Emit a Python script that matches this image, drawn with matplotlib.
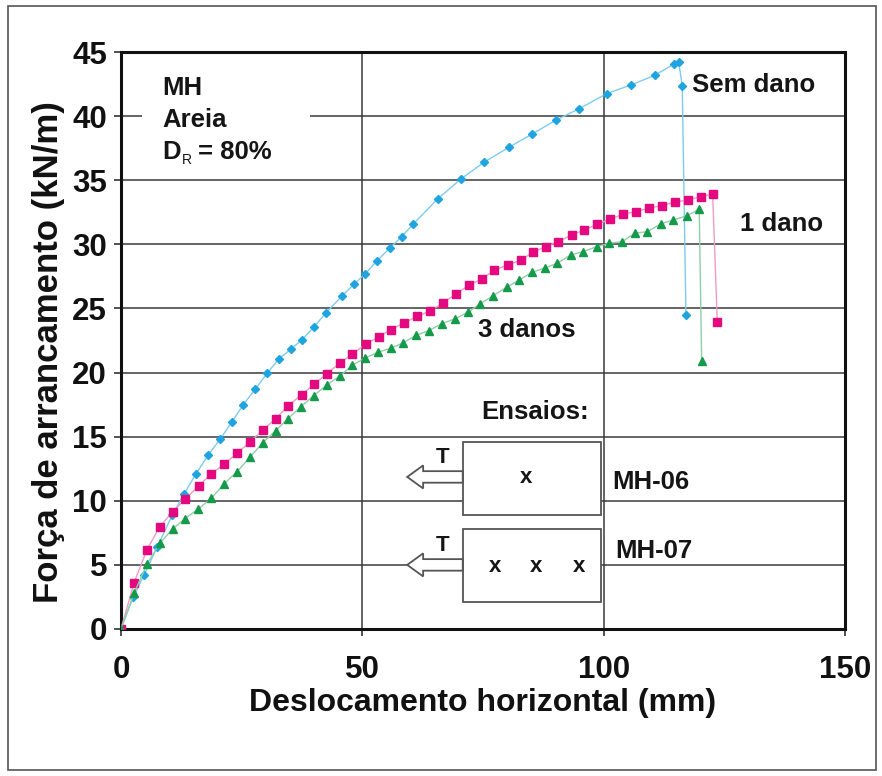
import matplotlib
matplotlib.use("Agg")
import matplotlib.pyplot as plt
from matplotlib import font_manager
from matplotlib.patches import Rectangle, Polygon

# ---------------- data ----------------
sem_dano_x = [0, 2.55, 4.76, 7.52, 10.63, 13.05, 15.48, 18.08, 20.57, 22.93, 25.34, 27.82,
              30.31, 32.73, 35.16, 37.56, 39.98, 42.41, 45.85, 48.27, 50.61, 53.10, 55.73,
              58.15, 60.56, 65.61, 70.44, 75.20, 80.38, 85.21, 90.18, 94.95, 100.68,
              105.66, 110.63, 114.63, 115.54, 116.28, 117.05]
sem_dano_y = [0, 2.52, 4.19, 6.42, 8.89, 10.53, 12.07, 13.57, 14.82, 16.12, 17.50, 18.70,
              19.97, 21.06, 21.82, 22.57, 23.56, 24.63, 26.00, 26.89, 27.71, 28.73, 29.72,
              30.60, 31.59, 33.54, 35.10, 36.40, 37.57, 38.61, 39.70, 40.58, 41.76,
              42.43, 43.19, 44.07, 44.23, 42.36, 24.49]

um_dano_x = [0, 2.69, 5.39, 8.02, 10.71, 13.32, 16.10, 18.71, 21.34, 24.03, 26.72, 29.36,
             32.05, 34.66, 37.44, 40.05, 42.61, 45.37, 47.92, 50.76, 53.39, 55.94, 58.63,
             61.38, 64.02, 66.71, 69.34, 72.09, 74.79, 77.34, 80.11, 82.81, 85.42, 87.98,
             90.60, 93.37, 95.98, 98.68, 101.31, 104.06, 106.69, 109.38, 112.02, 114.71,
             117.40, 120.10, 122.58, 123.54]
um_dano_y = [0, 3.59, 6.19, 7.98, 9.15, 10.12, 11.18, 12.09, 12.85, 13.70, 14.59, 15.50,
             16.40, 17.42, 18.28, 19.09, 19.91, 20.73, 21.45, 22.23, 22.78, 23.35, 23.87,
             24.39, 24.80, 25.43, 26.11, 26.81, 27.32, 27.98, 28.39, 28.76, 29.41, 29.82,
             30.21, 30.73, 31.12, 31.57, 31.96, 32.35, 32.55, 32.82, 33.02, 33.28,
             33.46, 33.70, 33.93, 23.97]

tres_danos_x = [0, 2.69, 5.39, 8.02, 10.71, 13.20, 16.02, 18.71, 21.34, 24.03, 26.72, 29.36,
                32.05, 34.53, 37.23, 39.92, 42.61, 45.37, 47.92, 50.49, 53.18, 55.94, 58.48,
                61.18, 63.75, 66.44, 69.13, 71.83, 74.37, 77.13, 79.90, 82.52, 85.15, 87.78,
                90.39, 93.16, 95.77, 98.55, 101.16, 103.85, 106.48, 109.03, 111.81, 114.42,
                117.19, 119.80, 120.30]
tres_danos_y = [0, 2.78, 5.07, 6.68, 7.80, 8.60, 9.36, 10.19, 11.31, 12.27, 13.39, 14.53,
                15.47, 16.38, 17.32, 18.20, 19.03, 19.73, 20.57, 21.12, 21.58, 21.90, 22.33,
                22.91, 23.27, 23.81, 24.18, 24.70, 25.35, 26.00, 26.65, 27.22, 27.82, 28.14,
                28.53, 29.17, 29.43, 29.82, 30.08, 30.21, 30.87, 30.99, 31.59, 31.90,
                32.22, 32.74, 20.90]

x_ticks = [0, 50, 100, 150]
y_ticks = [0, 5, 10, 15, 20, 25, 30, 35, 40, 45]

# ---------------- fonts ----------------
avail = {f.name for f in font_manager.fontManager.ttflist}
narrow = "Liberation Sans Narrow" if "Liberation Sans Narrow" in avail else "Liberation Sans"
plt.rcParams['font.family'] = ['Liberation Sans', 'DejaVu Sans']

fig = plt.figure(figsize=(8.82, 7.76), dpi=100)
ax = fig.add_axes([121/882, 1-629/776, (845-121)/882, (629-52)/776])

# figure frame
fig.patches.append(Rectangle((8/882, 6/776), (876-8)/882, (770-6)/776, transform=fig.transFigure,
                             fill=False, edgecolor='#555555', linewidth=1.2))

GRID = '#3a3a3a'
for yv in y_ticks[1:-1]:
    ax.axhline(yv, color=GRID, lw=1.1, zorder=0.5)
for xv in x_ticks[1:-1]:
    ax.axvline(xv, color=GRID, lw=1.1, zorder=0.5)

ax.plot(sem_dano_x, sem_dano_y, color='#7cccef', lw=1.0, zorder=3,
        marker='D', ms=4.2, mfc='#1ea4df', mec='#1ea4df')
ax.plot(um_dano_x, um_dano_y, color='#f29ac4', lw=1.0, zorder=3,
        marker='s', ms=5.5, mfc='#e4097f', mec='#e4097f')
ax.plot(tres_danos_x, tres_danos_y, color='#8fcfa5', lw=1.0, zorder=3,
        marker='^', ms=5.5, mfc='#15994a', mec='#15994a')

ax.set_xlim(0, 150)
ax.set_ylim(0, 45)
ax.set_xticks(x_ticks)
ax.set_yticks(y_ticks)
for s in ax.spines.values():
    s.set_linewidth(2.2)
    s.set_color('#111111')
ax.tick_params(axis='both', direction='out', length=5, width=1.2, color='#333333')
ax.tick_params(axis='x', pad=14)
ax.tick_params(axis='y', pad=5)
for lab in ax.get_xticklabels() + ax.get_yticklabels():
    lab.set_fontfamily(narrow)
    lab.set_fontweight('bold')
    lab.set_fontsize(22.5)
    lab.set_color('#111111')

ax.set_xlabel('Deslocamento horizontal (mm)', fontsize=23, fontweight='bold',
              fontfamily=narrow, labelpad=2, color='#111111')
ax.set_ylabel('Força de arrancamento (kN/m)', fontsize=25, fontweight='bold',
              fontfamily=narrow, color='#111111')
ax.yaxis.set_label_coords(-0.077, 0.48)

TXT = dict(fontsize=18.5, fontweight='bold', color='#151515', zorder=6)
# info block with white background
ax.add_patch(Rectangle((4.3, 35.8), 34.9, 8.6, facecolor='white', edgecolor='none', zorder=1))
ax.text(8.5, 42.2, 'MH', ha='left', va='center', **TXT)
ax.text(8.5, 39.7, 'Areia', ha='left', va='center', **TXT)
ax.text(8.5, 37.2, 'D', ha='left', va='center', **TXT)
ax.text(12.7, 36.55, 'R', ha='left', va='center', fontsize=10, fontweight='normal',
        color='#151515', zorder=6)
ax.text(16.0, 37.2, '= 80%', ha='left', va='center', **TXT)

ax.text(118.3, 42.4, 'Sem dano', ha='left', va='center', **TXT)
ax.text(128.2, 31.6, '1 dano', ha='left', va='center', **TXT)
ax.text(74.0, 23.3, '3 danos', ha='left', va='center', **TXT)
ax.text(74.6, 16.9, 'Ensaios:', ha='left', va='center', **TXT)
ax.text(101.7, 11.5, 'MH-06', ha='left', va='center', **TXT)
ax.text(102.3, 6.1, 'MH-07', ha='left', va='center', **TXT)

# test sketches
BOXC = '#555555'
ax.add_patch(Rectangle((70.8, 8.9), 28.6, 5.7, facecolor='white', edgecolor=BOXC, lw=1.3, zorder=4))
ax.add_patch(Rectangle((70.8, 2.13), 28.6, 5.67, facecolor='white', edgecolor=BOXC, lw=1.3, zorder=4))

def arrow(yc):
    pts = [(70.8, yc + 0.45), (62.6, yc + 0.45), (62.6, yc + 0.9), (59.3, yc),
           (62.6, yc - 0.9), (62.6, yc - 0.45), (70.8, yc - 0.45)]
    ax.add_patch(Polygon(pts, closed=True, facecolor='white', edgecolor=BOXC, lw=1.3, zorder=4))

arrow(11.86)
arrow(5.0)
XT = dict(fontsize=16, fontweight='bold', color='#151515', zorder=6, ha='center', va='center')
ax.text(66.7, 13.4, 'T', **XT)
ax.text(66.7, 6.55, 'T', **XT)
ax.text(83.9, 11.8, 'x', **XT)
for xv in [77.5, 85.9, 94.8]:
    ax.text(xv, 4.86, 'x', **XT)

fig.savefig('out.png', dpi=100)
